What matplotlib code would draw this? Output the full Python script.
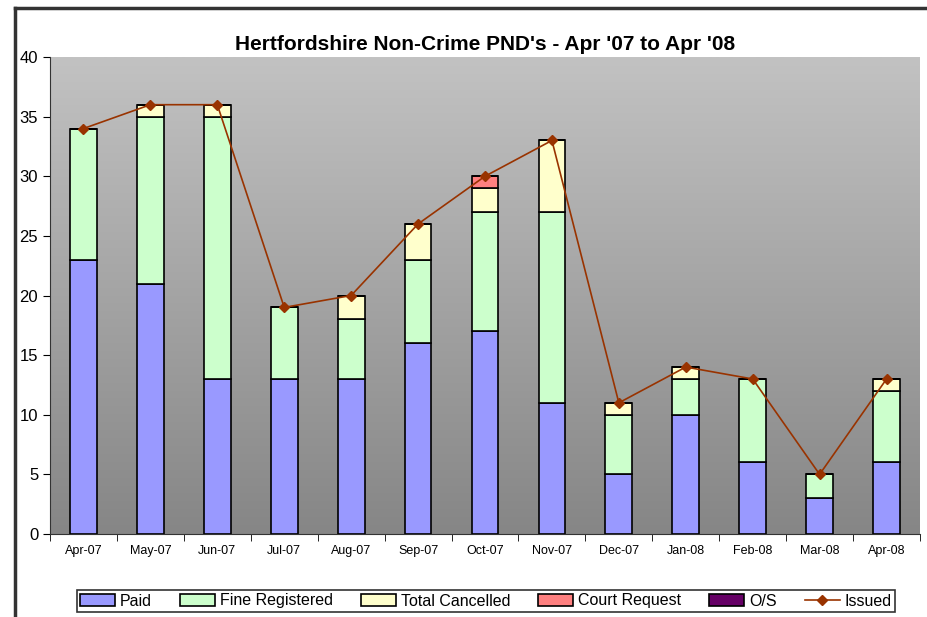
import matplotlib.pyplot as plt
import numpy as np
from matplotlib.lines import Line2D

months = ['Apr-07', 'May-07', 'Jun-07', 'Jul-07', 'Aug-07', 'Sep-07', 'Oct-07',
          'Nov-07', 'Dec-07', 'Jan-08', 'Feb-08', 'Mar-08', 'Apr-08']
paid = [23, 21, 13, 13, 13, 16, 17, 11, 5, 10, 6, 3, 6]
fine_registered = [11, 14, 22, 6, 5, 7, 10, 16, 5, 3, 7, 2, 6]
total_cancelled = [0, 1, 1, 0, 2, 3, 2, 6, 1, 1, 0, 0, 1]
court_request = [0, 0, 0, 0, 0, 0, 1, 0, 0, 0, 0, 0, 0]
outstanding = [0, 0, 0, 0, 0, 0, 0, 0, 0, 0, 0, 0, 0]
issued = [34, 36, 36, 19, 20, 26, 30, 33, 11, 14, 13, 5, 13]

plt.rcParams['font.family'] = ['Liberation Sans', 'DejaVu Sans']

fig = plt.figure(figsize=(9.27, 6.17), dpi=100)
W, H = 927, 617
ax = fig.add_axes([50 / W, 1 - 534 / H, 870 / W, (534 - 57) / H])

# chart area border (only top and left visible in the original)
fig.add_artist(Line2D([15 / W, 15 / W], [0, 1 - 8 / H], color='#333333', lw=2.5))
fig.add_artist(Line2D([15 / W, 1], [1 - 8 / H, 1 - 8 / H], color='#333333', lw=2.5))

# gradient background
grad = np.linspace(0, 1, 256).reshape(-1, 1)
ax.imshow(grad, extent=[-0.5, 12.5, 0, 40], aspect='auto', origin='lower',
          cmap=plt.matplotlib.colors.LinearSegmentedColormap.from_list(
              'g', ['#868686', '#c2c2c2']), zorder=0)

x = np.arange(len(months))
w = 0.4
series = [
    (paid, '#9999FF', 'Paid'),
    (fine_registered, '#CCFFCC', 'Fine Registered'),
    (total_cancelled, '#FFFFCC', 'Total Cancelled'),
    (court_request, '#FF8080', 'Court Request'),
    (outstanding, '#660066', 'O/S'),
]
bottom = np.zeros(len(months))
handles = []
for vals, col, lab in series:
    vals = np.array(vals)
    b = ax.bar(x, vals, w, bottom=bottom, color=col, edgecolor='black',
               linewidth=1.2, label=lab, zorder=2)
    handles.append(b)
    bottom += vals

ln, = ax.plot(x, issued, color='#993300', lw=1.2, marker='D', markersize=5,
              label='Issued', zorder=3)
handles.append(ln)

ax.set_xlim(-0.5, 12.5)
ax.set_ylim(0, 40)
ax.set_yticks(range(0, 41, 5))
ax.set_xticks(x)
ax.set_xticklabels(months, fontsize=9)
ax.tick_params(axis='y', labelsize=12, direction='out', length=5)
ax.set_xticks(np.arange(-0.5, 13, 1), minor=True)
ax.tick_params(axis='x', which='major', length=0, pad=8)
ax.tick_params(axis='x', which='minor', length=5, direction='out')
for s in ['top', 'right']:
    ax.spines[s].set_visible(False)
ax.spines['left'].set_color('#333333')
ax.spines['bottom'].set_color('#333333')

fig.text(485 / W, 1 - 44 / H, "Hertfordshire Non-Crime PND's - Apr '07 to Apr '08",
         ha='center', va='center', fontsize=15, fontweight='bold')

leg = fig.legend(handles=handles, loc='center', bbox_to_anchor=(486 / W, 1 - 601 / H),
                 ncol=6, frameon=True, fontsize=11.5, fancybox=False,
                 handlelength=2.2, handletextpad=0.3, columnspacing=1.75,
                 borderpad=0.2)
leg.get_frame().set_edgecolor('black')
leg.get_frame().set_linewidth(1.2)

fig.savefig('out.png', dpi=100)
